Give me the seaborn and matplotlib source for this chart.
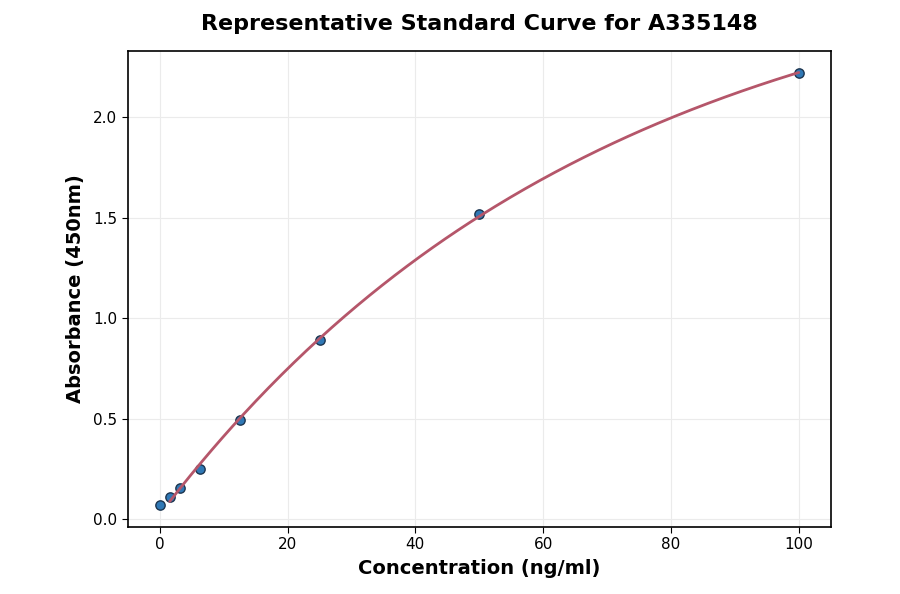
import numpy as np
import pandas as pd
import matplotlib
matplotlib.use("Agg")
import matplotlib.pyplot as plt
import seaborn as sns

conc = [0, 1.56, 3.125, 6.25, 12.5, 25, 50, 100]
absorb = [0.07, 0.114, 0.154, 0.249, 0.497, 0.895, 1.522, 2.219]

df = pd.DataFrame({"conc": conc, "abs": absorb})

# fit saturating curve y = a + b*(1-exp(-x/c)) via grid search on c
x = np.array(conc[1:]); y = np.array(absorb[1:])
best = None
for c in np.linspace(10, 300, 2901):
    A = np.vstack([np.ones_like(x), 1 - np.exp(-x / c)]).T
    coef, res, *_ = np.linalg.lstsq(A, y, rcond=None)
    err = np.sum((A @ coef - y) ** 2)
    if best is None or err < best[0]:
        best = (err, c, coef)
_, c, (a, b) = best
xf = np.linspace(conc[1], conc[-1], 300)
yf = a + b * (1 - np.exp(-xf / c))
fit = pd.DataFrame({"conc": xf, "abs": yf})

sns.set_style("white")
plt.rcParams['font.family'] = ['DejaVu Sans']
plt.rcParams['text.color'] = 'black'
plt.rcParams['axes.labelcolor'] = 'black'
plt.rcParams['xtick.color'] = 'black'
plt.rcParams['ytick.color'] = 'black'
fig, ax = plt.subplots(figsize=(9, 5.94), dpi=100)
fig.subplots_adjust(left=0.142, right=0.923, top=0.914, bottom=0.113)

sns.scatterplot(data=df, x="conc", y="abs", ax=ax, color="#2f78b5", edgecolor="#1c3550",
                linewidth=1.0, s=45, zorder=2)
sns.lineplot(data=fit, x="conc", y="abs", ax=ax, color="#b5566a", linewidth=2, zorder=3)

ax.grid(True, color="#ebebeb", linewidth=0.8)
ax.set_axisbelow(True)
for s in ax.spines.values():
    s.set_color("black"); s.set_linewidth(1.2)
ax.tick_params(axis="both", labelsize=11, length=4, color="black", left=True, bottom=True)
ax.set_xlabel("Concentration (ng/ml)", fontsize=14, fontweight="bold", labelpad=5)
ax.set_ylabel("Absorbance (450nm)", fontsize=14, fontweight="bold", labelpad=6)
ax.set_title("Representative Standard Curve for A335148", fontsize=16, fontweight="bold", pad=15)
ax.set_xticks([0, 20, 40, 60, 80, 100])
ax.set_yticks([0.0, 0.5, 1.0, 1.5, 2.0])
ax.set_xlim(-5, 105)
ax.set_ylim(-0.037, 2.33)
fig.savefig("out.png", dpi=100)
